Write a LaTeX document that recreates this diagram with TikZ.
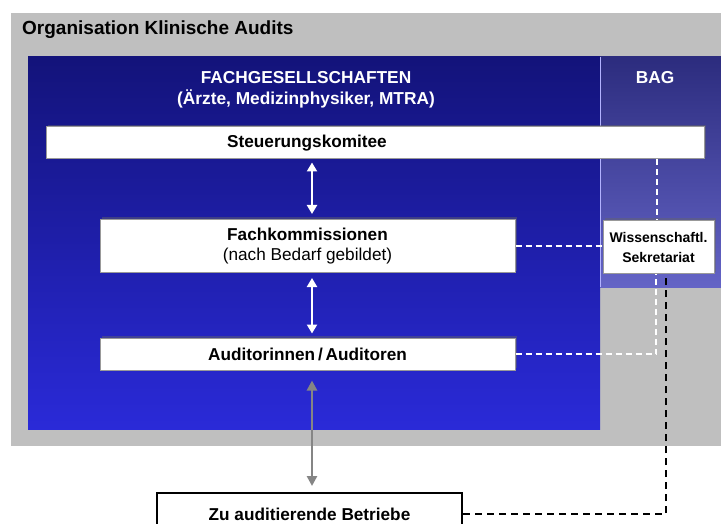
\documentclass[tikz,border=0pt]{standalone}
\usepackage{fontspec}
\setmainfont{Liberation Sans}
\usetikzlibrary{arrows.meta,shadows}
\definecolor{bggray}{HTML}{BFBFBF}
\definecolor{fgtop}{HTML}{13137A}
\definecolor{fgbot}{HTML}{2A2AD8}
\definecolor{bagtop}{HTML}{2C2C7E}
\definecolor{bagbot}{HTML}{6464C6}
\definecolor{arrgray}{HTML}{858585}
\tikzset{
  box/.style={draw=gray!80, line width=1pt, fill=white, inner sep=0pt,
    drop shadow={shadow xshift=2pt, shadow yshift=2pt, opacity=0.45, fill=black!60}},
  lbl/.style={font=\bfseries\fontsize{17.2}{20}\selectfont, align=center, inner sep=0pt},
  hdr/.style={font=\bfseries\fontsize{17.3}{21}\selectfont, text=white, align=center, inner sep=0pt},
  wdash/.style={draw=white, line width=2pt, dash pattern=on 6pt off 4pt},
  bdash/.style={draw=black, line width=2pt, dash pattern=on 7pt off 5pt},
  warrow/.style={draw=white, line width=2.2pt, {Triangle[width=10pt,length=9pt]}-{Triangle[width=10pt,length=9pt]}},
  garrow/.style={draw=arrgray, line width=2.6pt, {Triangle[width=10pt,length=10pt]}-{Triangle[width=10pt,length=10pt]}}
}
\begin{document}
\begin{tikzpicture}[x=1pt,y=-1pt]
\useasboundingbox (0,0) rectangle (721,524);
\clip (0,0) rectangle (721,524);
\fill[white] (0,0) rectangle (721,524);
% outer gray area
\fill[bggray] (11,13) rectangle (721,446);
\node[anchor=west, font=\bfseries\fontsize{19}{22}\selectfont, inner sep=0pt] (title) at (22,30) {Organisation Klinische Audits};
% blue areas
\shade[top color=fgtop, bottom color=fgbot] (28,57) rectangle (600,429);
\shade[top color=bagtop, bottom color=bagbot] (600,57) rectangle (721,287);
\draw[line width=0.6pt, draw=white!70!blue] (600,57) -- (600,287);
\node[hdr] (fg) at (306,89.5) {FACHGESELLSCHAFTEN\\(Ärzte, Medizinphysiker, MTRA)};
\node[hdr] (bag) at (655,78) {BAG};
% boxes
\node[box, minimum width=658pt, minimum height=32pt] (komitee) at (375,143) {};
\node[lbl] (komiteetext) at (307,143) {Steuerungskomitee};
\node[box, minimum width=415pt, minimum height=53pt, lbl, draw=gray!80, inner sep=0pt] (fach) at (307.5,246)
  {Fachkommissionen\\[0pt]{\mdseries (nach Bedarf gebildet)}};
\node[box, minimum width=415pt, minimum height=32pt, lbl, draw=gray!80] (audit) at (307.5,354) {Auditorinnen\,/\,Auditoren};
\node[box, minimum width=111pt, minimum height=53pt, lbl, font=\bfseries\fontsize{14}{20}\selectfont, draw=gray!80] (wiss) at (658.5,247) {Wissenschaftl.\\Sekretariat};
\node[draw=black, line width=2pt, fill=white, minimum width=305pt, minimum height=42pt, lbl, inner sep=0pt] (betr) at (309.5,514) {Zu auditierende Betriebe};
% arrows
\draw[warrow] ([xshift=4.5pt,yshift=-3pt]komitee.south -| fach.north) -- ([xshift=4.5pt,yshift=5pt]fach.north);
\draw[warrow] ([xshift=4.5pt,yshift=-5pt]fach.south) -- ([xshift=4.5pt,yshift=4pt]audit.north);
\draw[garrow] ([xshift=4.5pt,yshift=-10pt]audit.south) -- ([xshift=2.5pt,yshift=6pt]betr.north);
% dashed links
\draw[wdash] (komitee.south -| 657,0) -- (wiss.north -| 657,0);
\draw[wdash] (fach.east) -- (wiss.west |- fach.east);
\draw[wdash] (audit.east) -- (656,354) -- (wiss.south -| 656,0);
\draw[bdash] (betr.east |- 0,514) -- (666,514) -- (wiss.south -| 666,0);
\end{tikzpicture}
\end{document}
